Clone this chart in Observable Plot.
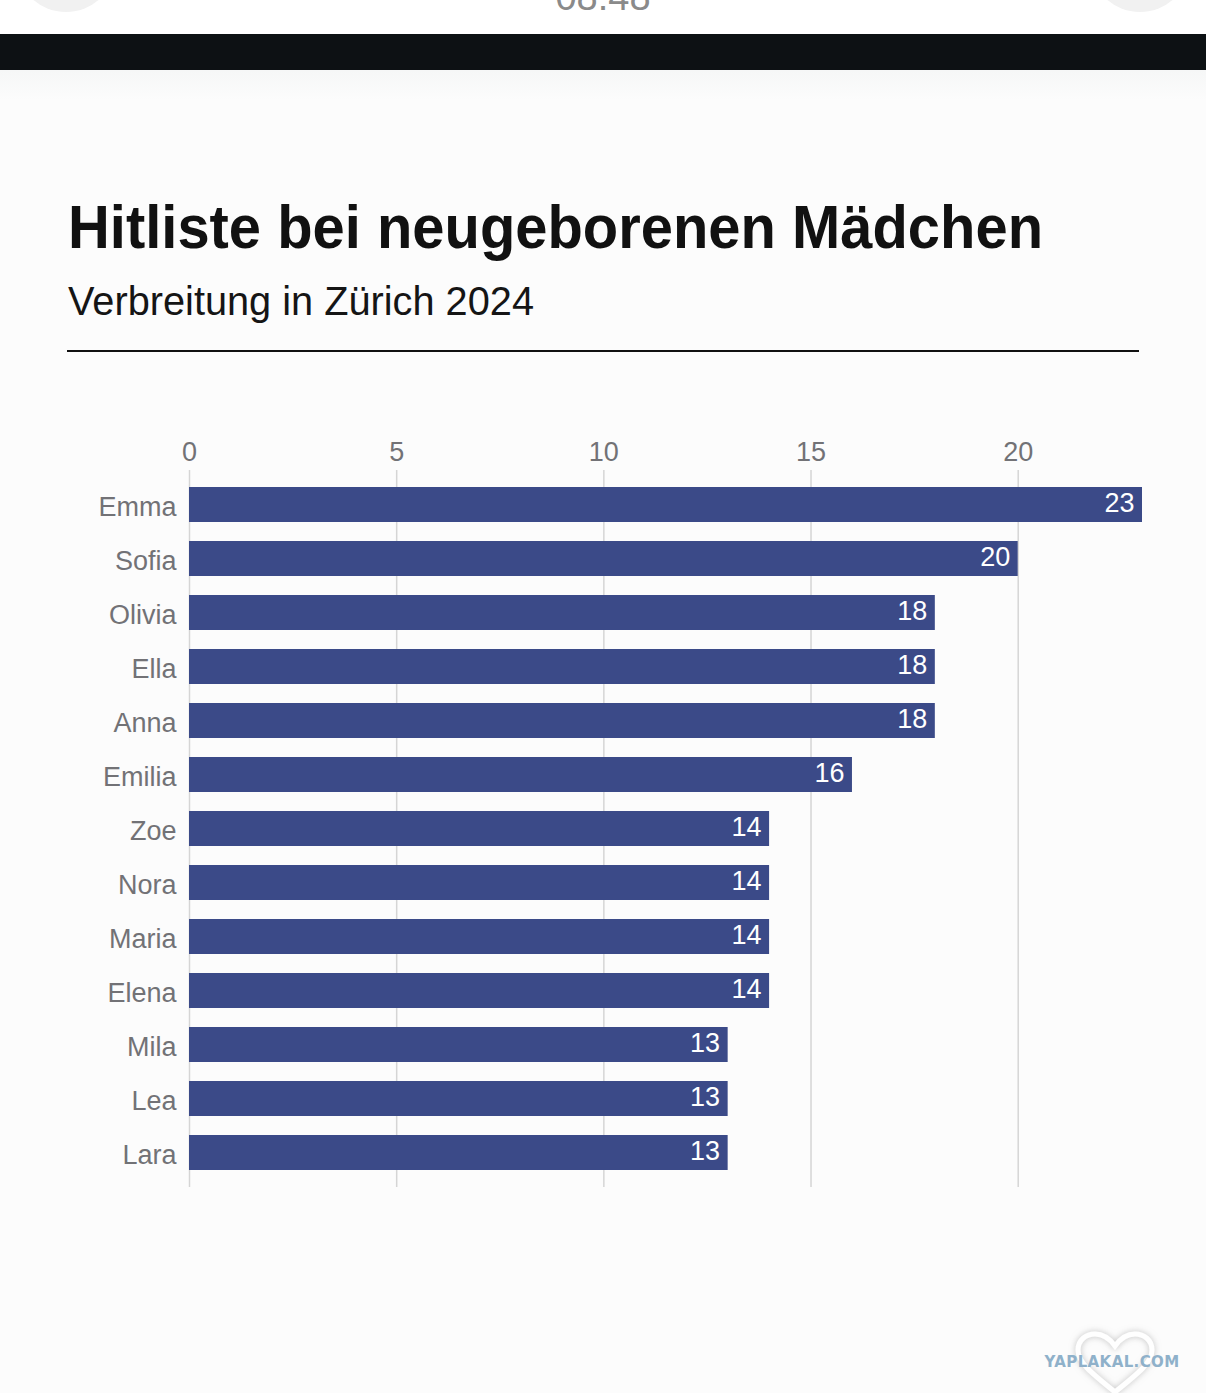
<!DOCTYPE html>
<html>
<head>
<meta charset="utf-8">
<script src="https://cdn.jsdelivr.net/npm/d3@7"></script>
<script src="https://cdn.jsdelivr.net/npm/@observablehq/plot@0.6"></script>
<style>
  html, body { margin: 0; padding: 0; }
  body { width: 1206px; height: 1393px; position: relative; overflow: hidden; background: #fcfcfc; font-family: "Liberation Sans", Arial, sans-serif; }
  #status { position: absolute; left: 0; top: 0; width: 1206px; height: 34px; background: #ffffff; overflow: hidden; }
  #navbar { position: absolute; left: 0; top: 34px; width: 1206px; height: 36px; background: #0d1114; }
  #fade { position: absolute; left: 0; top: 70px; width: 1206px; height: 30px; background: linear-gradient(#f6f7f7, #fcfcfc); }
  #header { position: absolute; left: 0; top: 0; }
  #chart { position: absolute; left: 0; top: 418px; }
  #wm { position: absolute; left: 1030px; top: 1320px; }
</style>
</head>
<body>
<div id="status">
  <svg width="1206" height="34">
    <circle cx="66" cy="-38" r="50" fill="#f1f1f1"/>
    <circle cx="1140" cy="-38" r="50" fill="#f1f1f1"/>
    <text x="603" y="10" text-anchor="middle" font-family="Liberation Sans, Arial, sans-serif" font-size="38" fill="#8a8a8a">08:48</text>
  </svg>
</div>
<div id="navbar"></div>
<div id="fade"></div>
<svg id="header" width="1206" height="400">
  <text id="title" x="68" y="248" font-family="Liberation Sans, Arial, sans-serif" font-weight="700" font-size="62" fill="#111111" textLength="975" lengthAdjust="spacingAndGlyphs">Hitliste bei neugeborenen Mädchen</text>
  <text id="subtitle" x="68" y="315" font-family="Liberation Sans, Arial, sans-serif" font-size="41" fill="#151515" textLength="466" lengthAdjust="spacingAndGlyphs">Verbreitung in Zürich 2024</text>
  <line x1="67" x2="1139" y1="351" y2="351" stroke="#111111" stroke-width="2"/>
</svg>
<div id="chart"></div>
<svg id="wm" width="176" height="73">
  <defs>
    <filter id="sh" x="-30%" y="-30%" width="160%" height="160%">
      <feDropShadow dx="0" dy="0" stdDeviation="3" flood-color="#9a9a9a" flood-opacity="0.6"/>
    </filter>
  </defs>
  <path d="M85 72 C60 52 48 42 48 30 C48 20 56 14 65 14 C74 14 80 19 85 26 C90 19 96 14 105 14 C114 14 122 20 122 30 C122 42 110 52 85 72 Z" fill="none" stroke="#ffffff" stroke-width="5" filter="url(#sh)"/>
  <text x="82" y="47" text-anchor="middle" font-family="DejaVu Sans, sans-serif" font-weight="700" font-size="15" fill="#8fb1ca" letter-spacing="0.4">YAPLAKAL.COM</text>
</svg>
<script>
const names = ["Emma", "Sofia", "Olivia", "Ella", "Anna", "Emilia", "Zoe", "Nora", "Maria", "Elena", "Mila", "Lea", "Lara"];
const counts = [23, 20, 18, 18, 18, 16, 14, 14, 14, 14, 13, 13, 13];
const xTicks = [0, 5, 10, 15, 20];

const data = names.map((name, i) => ({name, count: counts[i]}));

const chart = Plot.plot({
  width: 1206,
  height: 782,
  marginLeft: 189,
  marginRight: 64,
  marginTop: 52,
  marginBottom: 13,
  style: { background: "transparent", color: "#727276", fontFamily: "Liberation Sans, Arial, sans-serif" },
  x: { domain: [0, 23] },
  y: { domain: names, paddingInner: 0.36, paddingOuter: 0.28 },
  marks: [
    Plot.ruleX(xTicks, { stroke: "#d5d5d5", strokeWidth: 1.5 }),
    Plot.barX(data, { x: "count", y: "name", fill: "#3b4a88" }),
    Plot.text(data, { x: "count", y: "name", text: d => String(d.count), textAnchor: "end", dx: -8, dy: -2, fill: "#ffffff", fontSize: 27 }),
    Plot.axisX(xTicks, { anchor: "top", tickSize: 0, tickPadding: 10, fontSize: 27, label: null }),
    Plot.axisY({ tickSize: 0, tickPadding: 13, fontSize: 27, dy: 2, label: null })
  ]
});
document.getElementById("chart").appendChild(chart);
</script>
</body>
</html>
